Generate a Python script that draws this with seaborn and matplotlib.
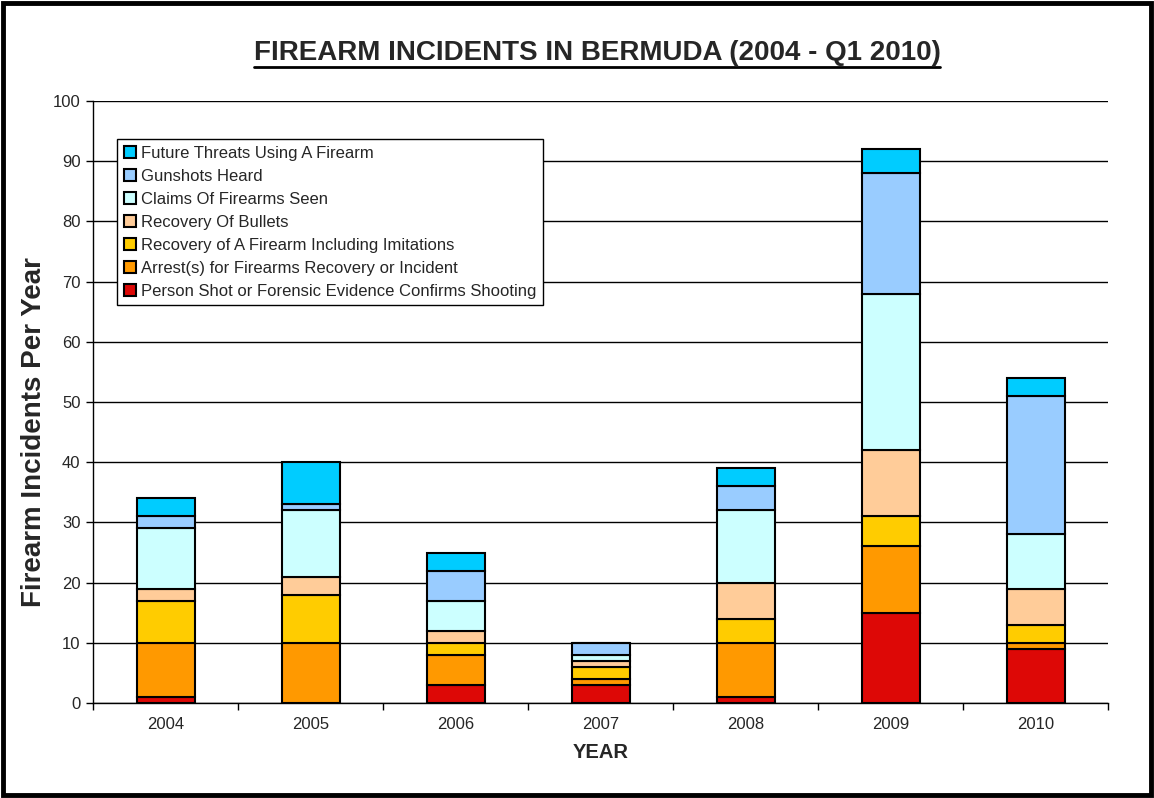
import seaborn
import matplotlib.pyplot as plt
from matplotlib.patches import Rectangle
from matplotlib.lines import Line2D
from pandas import DataFrame

# the chart data (incidents per year)
years = [2004, 2005, 2006, 2007, 2008, 2009, 2010]
future_threats = [3, 7, 3, 0, 3, 4, 3]
gunshots_heard = [2, 1, 5, 2, 4, 20, 23]
claims_seen = [10, 11, 5, 1, 12, 26, 9]
recovery_bullets = [2, 3, 2, 1, 6, 11, 6]
recovery_firearm = [7, 8, 2, 2, 4, 5, 3]
arrests = [9, 10, 5, 1, 9, 11, 1]
person_shot = [1, 0, 3, 3, 1, 15, 9]

# legend order, top of the stack first
series_names = [
    "Future Threats Using A Firearm",
    "Gunshots Heard",
    "Claims Of Firearms Seen",
    "Recovery Of Bullets",
    "Recovery of A Firearm Including Imitations",
    "Arrest(s) for Firearms Recovery or Incident",
    "Person Shot or Forensic Evidence Confirms Shooting",
]
series_values = [future_threats, gunshots_heard, claims_seen, recovery_bullets,
                 recovery_firearm, arrests, person_shot]
colors = ["#00CCFF", "#99CCFF", "#CCFFFF", "#FFCC99", "#FFCC00", "#FF9900", "#DD0806"]

# long form table for seaborn
rows = []
for name, values in zip(series_names, series_values):
    for year, value in zip(years, values):
        rows.append({'year': year, 'category': name, 'count': value})
data = DataFrame(rows)

# set some stylistic stuff up
seaborn.set_style("white")
plt.rcParams['font.family'] = ['Liberation Sans', 'DejaVu Sans']

fig = plt.figure(figsize=(11.54, 7.98), dpi=100)
ax = fig.add_axes([93 / 1154, 95 / 798, 1015 / 1154, 602 / 798])

# stacked bars via weighted discrete histogram
seaborn.histplot(data=data, x='year', weights='count', hue='category',
    hue_order=series_names, palette=colors, multiple='stack',
    discrete=True, shrink=0.4, alpha=1, edgecolor='black', linewidth=1.5,
    ax=ax
)

# axes styling
ax.set_axisbelow(True)
ax.set_ylim(0, 100)
ax.set_yticks(range(0, 101, 10))
ax.yaxis.grid(True, color='black', linewidth=1)
ax.set_xlim(2003.5, 2010.5)
ax.set_xticks(years)
ax.set_xticks([y - 0.5 for y in years] + [2010.5], minor=True)
ax.tick_params(axis='x', which='major', length=0, labelsize=12, pad=10)
ax.tick_params(axis='x', which='minor', length=5, width=1, direction='out', color='black', bottom=True)
ax.tick_params(axis='y', length=5, width=1, direction='out', color='black', labelsize=12, left=True, pad=4)
for side in ['top', 'right']:
    ax.spines[side].set_visible(False)
for side in ['left', 'bottom']:
    ax.spines[side].set_color('black')
    ax.spines[side].set_linewidth(1)

ax.set_xlabel("YEAR", fontsize=14.5, fontweight='bold', labelpad=8)
ax.set_ylabel("Firearm Incidents Per Year", fontsize=20, fontweight='bold')
ax.yaxis.set_label_coords(-0.045, 0.45)

# legend in the top left corner
seaborn.move_legend(ax, 'upper left', bbox_to_anchor=(24 / 1015, 564 / 602),
    borderaxespad=0, title=None, frameon=True, fancybox=False,
    edgecolor='black', framealpha=1, fontsize=12, labelspacing=0.48,
    handlelength=0.75, handleheight=0.75, handletextpad=0.3, borderpad=0.4
)
ax.get_legend().get_frame().set_linewidth(1)

# underlined title
title = fig.text(597 / 1154, 1 - 53 / 798, "FIREARM INCIDENTS IN BERMUDA (2004 - Q1 2010)",
    ha='center', va='center', fontsize=20, fontweight='bold')
fig.canvas.draw()
bb = title.get_window_extent().transformed(fig.transFigure.inverted())
fig.add_artist(Line2D([bb.x0, bb.x1], [bb.y0 - 0.001] * 2,
    transform=fig.transFigure, color='black', linewidth=2))

# border round the whole chart
fig.add_artist(Rectangle((0.003, 0.004), 0.994, 0.992, transform=fig.transFigure,
    fill=False, edgecolor='black', linewidth=3.5))

plt.savefig('out.png', dpi=100)
